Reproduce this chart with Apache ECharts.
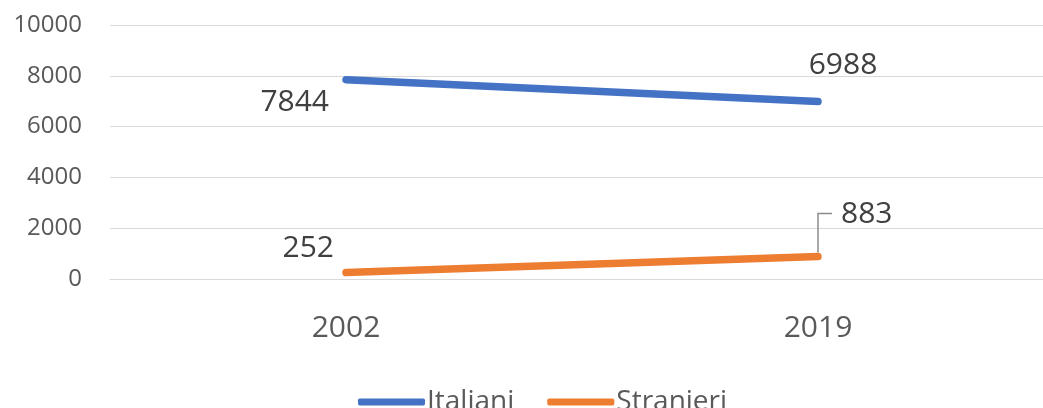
<!DOCTYPE html>
<html>
<head>
<meta charset="utf-8">
<script src="https://cdn.jsdelivr.net/npm/echarts@6/dist/echarts.min.js"></script>
<style>
html,body{margin:0;padding:0;background:#fff;overflow:hidden;width:1043px;height:408px;}
#main{width:1058px;height:408px;}
</style>
</head>
<body>
<div id="main"></div>
<script>
const categories = ['2002', '2019'];
const italiani = [7844, 6988];
const stranieri = [252, 883];
const seriesNames = ['Italiani', 'Stranieri'];

const FONT = '"Open Sans", sans-serif';
const labelStyle = { show: true, fontSize: 30, color: '#404040', fontFamily: FONT };

const chart = echarts.init(document.getElementById('main'));

const itaData = italiani.map((v, i) => ({
  value: v,
  label: Object.assign({}, labelStyle, i === 0
    ? { position: 'left', offset: [-12, 23] }
    : { position: 'top', offset: [25, -16] })
}));
const strData = stranieri.map((v, i) => ({
  value: v,
  label: Object.assign({}, labelStyle, i === 0
    ? { position: 'left', offset: [-7, -24] }
    : { position: 'right', offset: [18, -42] })
}));

chart.setOption({
  animation: false,
  backgroundColor: '#ffffff',
  grid: { left: 110, right: 4, top: 25, bottom: 129, containLabel: false },
  legend: {
    data: seriesNames,
    bottom: -13,
    left: 353,
    itemWidth: 67,
    itemHeight: 7,
    itemGap: 33,
    icon: 'roundRect',
    textStyle: { fontSize: 28, color: '#595959', fontFamily: FONT, padding: [0, 0, 0, -3] }
  },
  xAxis: {
    type: 'category',
    data: categories,
    boundaryGap: true,
    axisLine: { show: true, lineStyle: { color: '#d9d9d9' } },
    axisTick: { show: false },
    axisLabel: { fontSize: 30, color: '#595959', fontFamily: FONT, margin: 34 }
  },
  yAxis: {
    type: 'value',
    min: 0,
    max: 10000,
    interval: 2000,
    axisLine: { show: false },
    axisTick: { show: false },
    splitLine: { lineStyle: { color: '#d9d9d9', width: 1 } },
    axisLabel: { fontSize: 24, color: '#595959', fontFamily: FONT, margin: 28, formatter: v => String(v) }
  },
  series: [
    {
      name: seriesNames[0], type: 'line', data: itaData,
      symbol: 'circle', symbolSize: 0, showSymbol: true,
      color: '#4472C4',
      lineStyle: { width: 7.5, color: '#4472C4', cap: 'round' }
    },
    {
      name: seriesNames[1], type: 'line', data: strData,
      symbol: 'circle', symbolSize: 0, showSymbol: true,
      color: '#ED7D31',
      lineStyle: { width: 7.5, color: '#ED7D31', cap: 'round' }
    }
  ]
});

// leader line for the last Stranieri label, anchored at the data point via the axis scales
const p = chart.convertToPixel({ seriesIndex: 1 }, [1, stranieri[1]]);
chart.setOption({
  graphic: [{
    type: 'polyline',
    z: 1,
    shape: { points: [[p[0], p[1] - 4], [p[0], p[1] - 43], [p[0] + 14, p[1] - 43]] },
    style: { stroke: '#8c8c8c', lineWidth: 1.5, fill: null }
  }]
});
</script>
</body>
</html>
